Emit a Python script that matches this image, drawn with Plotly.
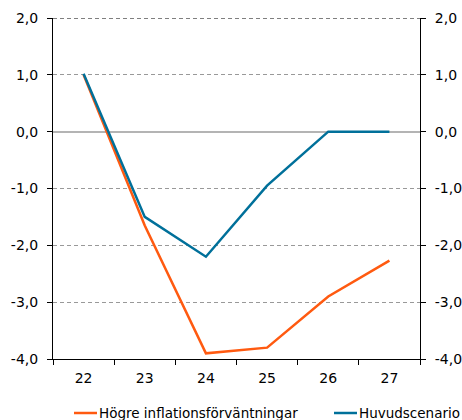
import plotly.graph_objects as go

# Years (two-digit) on the category axis
years = ["22", "23", "24", "25", "26", "27"]

# Series values, percent
hogre_infl = [1.0, -1.65, -3.9, -3.8, -2.9, -2.27]
huvudscenario = [1.02, -1.5, -2.2, -0.95, 0.0, 0.0]

series_names = ["Högre inflationsförväntningar", "Huvudscenario"]

y_ticks = [2, 1, 0, -1, -2, -3, -4]
# Swedish decimal comma, plain hyphen for negatives
y_ticktext = [f"{v:.1f}".replace(".", ",") for v in y_ticks]

ORANGE = "#FF5A10"
BLUE = "#00709A"
FONT = dict(family="DejaVu Sans, Verdana, sans-serif", size=14, color="#000000")
LEG_FONT = dict(FONT, size=13.5)

# plot-area geometry in pixels (used to place the hand-drawn legend)
W, H = 462, 420
L, R, T, B = 53, 42, 18, 61
PW, PH = W - L - R, H - T - B


def px_x(px):
    return (px - L) / PW


def px_y(py):
    return (H - B - py) / PH


fig = go.Figure()
fig.add_trace(go.Scatter(
    x=years, y=hogre_infl, mode="lines", name=series_names[0],
    line=dict(color=ORANGE, width=2.5), showlegend=False,
))
fig.add_trace(go.Scatter(
    x=years, y=huvudscenario, mode="lines", name=series_names[1],
    line=dict(color=BLUE, width=2.5), showlegend=False,
))
# carrier for the right-hand axis
fig.add_trace(go.Scatter(
    x=years, y=huvudscenario, yaxis="y2", mode="lines", showlegend=False,
    hoverinfo="skip", line=dict(color="rgba(0,0,0,0)", width=0),
))

yfmt = dict(
    range=[-4, 2], tickvals=y_ticks, ticktext=y_ticktext,
    ticks="outside", ticklen=5, tickcolor="#000", tickwidth=1,
    ticklabelstandoff=6,
    showline=True, linecolor="#000", linewidth=1,
    tickfont=FONT, fixedrange=True,
)

fig.update_layout(
    width=W, height=H,
    margin=dict(l=L, r=R, t=T, b=B, autoexpand=False),
    paper_bgcolor="white", plot_bgcolor="white",
    font=FONT,
    showlegend=False,
    xaxis=dict(
        type="category", range=[-0.5, 5.5], tickson="boundaries",
        ticks="outside", ticklen=5, tickcolor="#000",
        ticklabelstandoff=6,
        showline=True, linecolor="#000", linewidth=1,
        showgrid=False, tickfont=FONT,
    ),
    yaxis=dict(
        **yfmt, side="left",
        showgrid=True, gridcolor="#999999", griddash="4px,3px", gridwidth=1,
        zeroline=True, zerolinecolor="#b4b4b4", zerolinewidth=2,
    ),
    yaxis2=dict(
        **yfmt, side="right", overlaying="y", showgrid=False, zeroline=False,
    ),
)

# darker dashed line along the top of the plot area
fig.add_shape(type="line", xref="paper", yref="y", x0=0, x1=1, y0=2, y1=2,
              line=dict(color="#555555", width=1.5, dash="4px,3px"))

# legend: short line sample followed by the series name
legend_items = [
    (series_names[0], ORANGE, 74, 97, 98),
    (series_names[1], BLUE, 334, 357, 358),
]
leg_y = 413
for name, color, s0, s1, tx in legend_items:
    fig.add_shape(type="line", xref="paper", yref="paper",
                  x0=px_x(s0), x1=px_x(s1), y0=px_y(leg_y), y1=px_y(leg_y),
                  line=dict(color=color, width=2.5))
    fig.add_annotation(text=name, xref="paper", yref="paper",
                       x=px_x(tx), y=px_y(leg_y), xanchor="left", yanchor="middle",
                       showarrow=False, font=LEG_FONT, borderpad=0)

fig.write_html("out.html")
